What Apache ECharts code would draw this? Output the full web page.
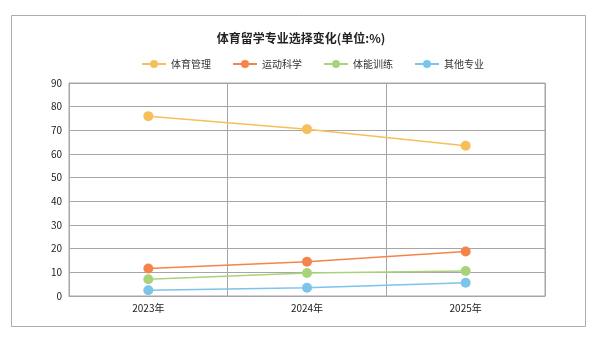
<!DOCTYPE html>
<html>
<head>
<meta charset="utf-8">
<script src="https://cdn.jsdelivr.net/npm/echarts@6/dist/echarts.min.js"></script>
<style>
  html, body { margin: 0; padding: 0; background: #fff; }
  #chart-box { width: 602px; height: 343px; }
</style>
</head>
<body>
<div id="chart-box"></div>
<script>
// data
const years = ["2023年", "2024年", "2025年"];
const seriesNames = ["体育管理", "运动科学", "体能训练", "其他专业"];
const sportsManagement = [76, 70.5, 63.5];
const sportsScience = [11.6, 14.5, 18.8];
const fitnessTraining = [7.1, 9.7, 10.6];
const otherMajors = [2.4, 3.5, 5.6];
const yTicks = [0, 10, 20, 30, 40, 50, 60, 70, 80, 90];

const colors = ["#F7BF5B", "#F4844C", "#A9D37B", "#7CC4EA"];
const allValues = [sportsManagement, sportsScience, fitnessTraining, otherMajors];

const chart = echarts.init(document.getElementById("chart-box"));
const option = {
  backgroundColor: "#fff",
  animation: false,
  textStyle: { fontFamily: "Noto Sans CJK SC" },
  title: {
    text: "体育留学专业选择变化(单位:%)",
    left: "center",
    top: 27,
    textStyle: {
      color: "#222",
      fontSize: 12,
      fontWeight: "bold",
      fontFamily: "Noto Sans CJK SC",
    },
  },
  legend: {
    top: 54,
    left: 136,
    itemWidth: 24,
    itemHeight: 10,
    itemGap: 21,
    textStyle: { fontSize: 10, color: "#333", fontFamily: "Noto Sans CJK SC" },
    data: seriesNames,
  },
  grid: {
    left: 69,
    right: 57,
    top: 83,
    bottom: 47,
    show: true,
    borderColor: "#a6a6a6",
    borderWidth: 1,
  },
  xAxis: {
    type: "category",
    data: years,
    boundaryGap: true,
    axisLine: { lineStyle: { color: "#a6a6a6" } },
    axisTick: { show: false },
    axisLabel: { color: "#222", fontSize: 10, margin: 7 },
    splitLine: { show: true, lineStyle: { color: "#a6a6a6", width: 1 } },
  },
  yAxis: {
    type: "value",
    min: yTicks[0],
    max: yTicks[yTicks.length - 1],
    interval: 10,
    axisLine: { show: true, lineStyle: { color: "#a6a6a6" } },
    axisTick: { show: false },
    axisLabel: { color: "#222", fontSize: 10, margin: 7 },
    splitLine: { lineStyle: { color: "#a6a6a6", width: 1 } },
  },
  graphic: [
    {
      type: "rect",
      shape: { x: 11.5, y: 15.5, width: 574, height: 311 },
      style: { fill: null, stroke: "#ababab", lineWidth: 1 },
      silent: true,
    },
  ],
  series: seriesNames.map((name, i) => ({
    name: name,
    type: "line",
    data: allValues[i],
    symbol: "circle",
    symbolSize: 10,
    lineStyle: { width: 1.5, color: colors[i] },
    itemStyle: { color: colors[i] },
  })),
};
chart.setOption(option);
</script>
</body>
</html>
